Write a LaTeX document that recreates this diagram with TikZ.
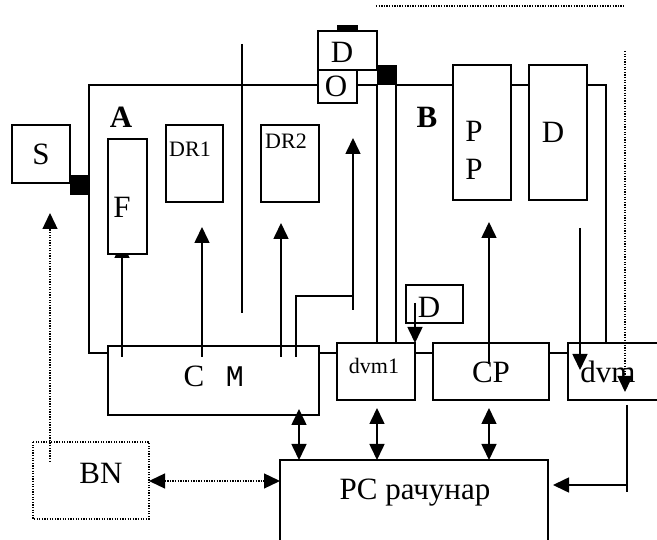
\documentclass[tikz,border=0pt]{standalone}
\usepackage{fontspec}
\setmainfont{Liberation Serif}
\newfontfamily\monof{Liberation Mono}
\usetikzlibrary{arrows.meta}
\tikzset{
  ln/.style={line width=1.6pt},
  boxst/.style={draw,line width=1.6pt,inner sep=0pt,outer sep=0pt,fill=white},
  blk/.style={fill=black,draw=none,inner sep=0pt,outer sep=0pt},
  big/.style={font=\fontsize{31}{31}\selectfont,anchor=base,inner sep=0pt},
  small/.style={font=\fontsize{22}{22}\selectfont,anchor=base,inner sep=0pt},
  tip/.tip={Triangle[length=16pt,width=15pt]},
  arr/.style={ln,-tip},
  darr/.style={ln,tip-tip},
  dotln/.style={line width=1.3pt,dash pattern=on 1.3pt off 1.3pt},
}
\newcommand\bxn[6][]{\node[boxst,#1,minimum width={#4pt-#2pt},minimum height={#5pt-#3pt}] (#6) at ({(#2+#4)/2},{(#3+#5)/2}) {};}
\begin{document}
\begin{tikzpicture}[x=1pt,y=-1pt]
\useasboundingbox (0,0) rectangle (657,540);
% boxes drawn first where arrows end inside them
\bxn{108}{346}{319}{415}{CM}
\bxn{337}{343}{415}{400}{dvmA}
\bxn{433}{343}{549}{400}{CP}
\bxn{568}{343}{664}{400}{dvmB}
\bxn{280}{460}{548}{548}{PC}
\bxn{12}{125}{70}{183}{S}
\bxn{166}{125}{223}{202}{DRa}
\bxn{261}{125}{319}{202}{DRb}
\bxn{318}{31}{377}{70}{Dt}
\bxn{318}{70}{357}{103}{O}
\bxn{453}{65}{511}{200}{PP}
\bxn{529}{65}{587}{200}{Dr}
\bxn{406}{285}{463}{323}{Ds}
\bxn[draw=none,fill=none]{33}{442}{149}{519}{BN}
\draw[dotln] (BN.north west) rectangle (BN.south east);
\bxn[blk]{70}{175}{89}{195}{blkA}
\bxn[blk]{377}{65}{397}{85}{blkB}
\bxn[blk]{337}{25}{358}{31}{bar}
% frame A / B
\draw[ln] (CM.west |- 0,353) -- (89,353) -- (89,85) -- (O.west |- 0,85);
\draw[ln] (O.east |- 0,85) -- (blkB.west |- 0,85);
\draw[ln] (blkB.east |- 0,85) -- (PP.west |- 0,85);
\draw[ln] (PP.east |- 0,85) -- (Dr.west |- 0,85);
\draw[ln] (Dr.east |- 0,85) -- (606,85) -- (606,0 |- dvmB.north);
\draw[ln] (CM.east |- 0,353) -- (dvmA.west |- 0,353);
\draw[ln] (dvmA.east |- 0,353) -- (CP.west |- 0,353);
\draw[ln] (CP.east |- 0,353) -- (dvmB.west |- 0,353);
\draw[ln] (blkB.south west) -- (blkB.south west |- dvmA.north);
\draw[ln] (396,85) -- (396,0 |- dvmA.north);
\coordinate (sepT) at (242,44);
\coordinate (sepB) at (242,313);
\draw[ln] (sepT) -- (sepB);
% arrows from CM
\coordinate (fA) at (122,357);
\draw[arr] (fA) -- (122,242);
\bxn{108}{139}{147}{254}{F}
\draw[arr] (202,357) -- (202,227);
\draw[arr] (281,357) -- (281,223);
\draw[ln] (296,357) -- (296,296) -- (353,296);
\draw[arr] (353,310) -- (353,138);
% right part
\draw[arr] (489,364) -- (489,222);
\draw[arr] (580,228) -- (580,370);
\draw[arr] (415,303) -- (415,0 |- dvmA.north);
\draw[dotln] (376,6) -- (625,6);
\draw[dotln,-tip] (625,51) -- (625,392);
\draw[ln] (627,405) -- (627,492);
\draw[arr] (627,485) -- (553,485);
% double arrows to PC
\draw[darr] (299,409) -- (299,0 |- PC.north);
\draw[darr] (377,408) -- (377,0 |- PC.north);
\draw[darr] (489,408) -- (489,0 |- PC.north);
% BN
\draw[dotln,tip-tip] (BN.east |- 0,481) -- (PC.west |- 0,481);
\draw[dotln,-tip] (50,462) -- (50,213);
% texts
\node[big] (tS) at (41,165) {S};
\node[big,font=\fontsize{31}{31}\selectfont\bfseries] (tA) at (121,128) {A};
\node[big] (tF) at (122,218) {F};
\node[small] (tDR1) at (190,157) {DR1};
\node[small] (tDR2) at (286,149) {DR2};
\node[big] (tDt) at (342,63) {D};
\node[big] (tO) at (336,97) {O};
\node[big,font=\fontsize{31}{31}\selectfont\bfseries] (tB) at (427,128) {B};
\node[big] (tP1) at (474,142) {P};
\node[big] (tP2) at (474,180) {P};
\node[big] (tDr) at (553,143) {D};
\node[big] (tC) at (194,387) {C};
\node[big,font=\fontsize{30}{30}\monof] (tM) at (235,387) {M};
\node[small] (tdvmA) at (374,374) {dvm1};
\node[big] (tDs) at (429,318) {D};
\node[big] (tCP) at (491,383) {CP};
\node[big] (tdvmB) at (608,383) {dvm};
\node[big] (tBN) at (101,483) {BN};
\node[big] (tPC) at (415,500) {PC рачунар};
\end{tikzpicture}
\end{document}
